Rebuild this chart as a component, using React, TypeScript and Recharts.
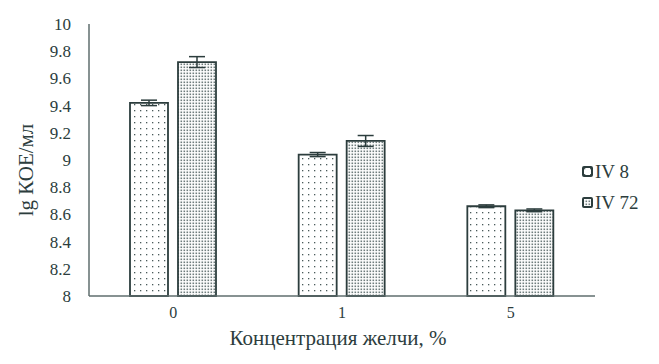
import { BarChart, Bar, XAxis, YAxis, ErrorBar, Legend } from "recharts";

// concentration of bile, %
const categories = ["0", "1", "5"];
const iv8 = [9.42, 9.04, 8.66];
const iv8Err = [0.02, 0.015, 0.01];
const iv72 = [9.72, 9.14, 8.63];
const iv72Err = [0.04, 0.04, 0.01];
const yTicks = [8, 8.2, 8.4, 8.6, 8.8, 9, 9.2, 9.4, 9.6, 9.8, 10];

const INK = "#2c3d3d";
const AXIS = "#5f6e6e";
const FONT = "Liberation Serif, DejaVu Serif, serif";

const data = categories.map((c, i) => ({
  cat: c,
  iv8: iv8[i],
  iv8Err: iv8Err[i],
  iv72: iv72[i],
  iv72Err: iv72Err[i],
}));

const fmtTick = (v: number) => String(Number(v.toFixed(1)));

function LegendBox() {
  const items = [
    { name: "IV 8", fill: "url(#dotsSparse)" },
    { name: "IV 72", fill: "url(#dotsDense)" },
  ];
  return (
    <div style={{ fontFamily: FONT, fontSize: 19, color: INK }}>
      {items.map((it) => (
        <div key={it.name} style={{ display: "flex", alignItems: "center", height: 31 }}>
          <svg width={11} height={11} style={{ marginRight: 2 }}>
            <rect x={1} y={1} width={9} height={9} fill={it.fill} stroke={INK} strokeWidth={2} rx={1} />
          </svg>
          <span>{it.name}</span>
        </div>
      ))}
    </div>
  );
}

export default function App() {
  return (
    <div style={{ position: "absolute", left: 0, top: 0, width: 659, height: 364, background: "#fff", fontFamily: FONT }}>
      <BarChart
        width={659}
        height={364}
        data={data}
        margin={{ top: 24, right: 64, left: 0, bottom: 8 }}
        barSize={38}
        barGap={10}
        style={{ fontFamily: FONT }}
      >
        <defs>
          <pattern id="dotsSparse" width={6} height={6} patternUnits="userSpaceOnUse">
            <rect width={6} height={6} fill="#fff" />
            <rect x={2} y={2} width={1.3} height={1.3} fill="#4a5a5a" />
          </pattern>
          <pattern id="dotsDense" width={3} height={3} patternUnits="userSpaceOnUse">
            <rect width={3} height={3} fill="#fff" />
            <rect x={0.5} y={0.5} width={1.6} height={1.6} fill="#6f7d7d" />
          </pattern>
        </defs>
        <XAxis
          dataKey="cat"
          height={60}
          tickLine={false}
          tickSize={0}
          tickMargin={11}
          axisLine={{ stroke: AXIS, strokeWidth: 1.5 }}
          tick={{ fontSize: 16, fill: INK, style: { fontFamily: FONT } }}
          label={({ viewBox }: any) => (
            <text
              x={viewBox.x + viewBox.width / 2 - 4}
              y={345}
              textAnchor="middle"
              fontSize={21}
              fill={INK}
              style={{ fontFamily: FONT }}
            >
              Концентрация желчи, %
            </text>
          )}
        />
        <YAxis
          width={89}
          domain={[8, 10]}
          ticks={yTicks}
          interval={0}
          tickFormatter={fmtTick}
          tickLine={false}
          tickSize={0}
          tickMargin={18}
          axisLine={{ stroke: AXIS, strokeWidth: 1.5 }}
          tick={{ fontSize: 17, fill: INK, style: { fontFamily: FONT } }}
          label={() => (
            <text
              x={33}
              y={170}
              transform="rotate(-90 33 170)"
              textAnchor="middle"
              fontSize={21}
              fill={INK}
              style={{ fontFamily: FONT }}
            >
              lg КОЕ/мл
            </text>
          )}
        />
        <Legend
          layout="horizontal"
          align="center"
          verticalAlign="middle"
          width={80}
          wrapperStyle={{ left: 582, top: 156 }}
          content={() => <LegendBox />}
        />
        <Bar dataKey="iv8" name="IV 8" fill="url(#dotsSparse)" stroke={INK} strokeWidth={1.8} isAnimationActive={false}>
          <ErrorBar dataKey="iv8Err" width={8} stroke={INK} strokeWidth={1.5} />
        </Bar>
        <Bar dataKey="iv72" name="IV 72" fill="url(#dotsDense)" stroke={INK} strokeWidth={1.8} isAnimationActive={false}>
          <ErrorBar dataKey="iv72Err" width={8} stroke={INK} strokeWidth={1.5} />
        </Bar>
      </BarChart>
    </div>
  );
}
